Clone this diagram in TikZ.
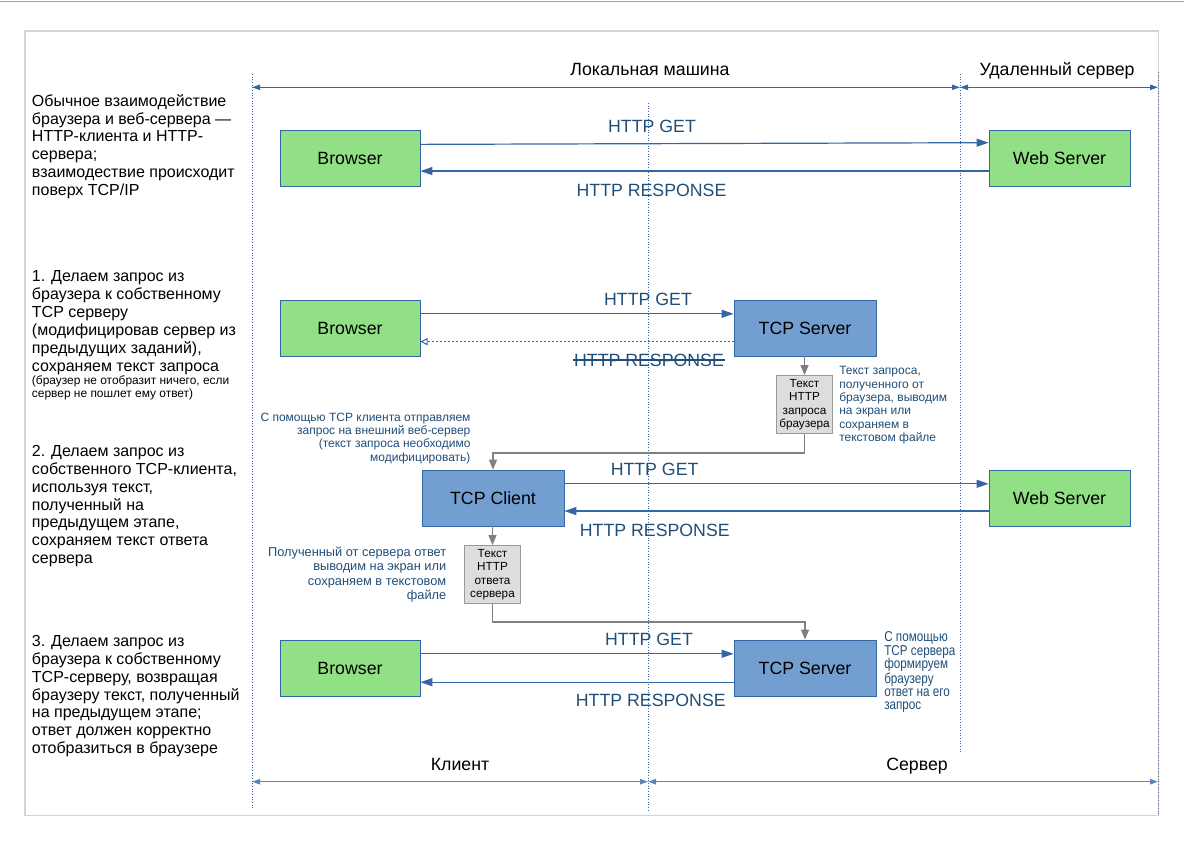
\documentclass[tikz,border=0pt]{standalone}
\usepackage{fontspec}
\setmainfont{Liberation Sans}
\newfontfamily\narrowfont[FakeStretch=0.82]{Liberation Sans}
\usetikzlibrary{arrows.meta,calc}
\definecolor{lineblue}{HTML}{3465A4}
\definecolor{txtblue}{HTML}{1F4E79}
\definecolor{boxgreen}{HTML}{92E085}
\definecolor{boxblue}{HTML}{729FCF}
\definecolor{graybox}{HTML}{DDDDDD}
\definecolor{grayline}{HTML}{808080}
\definecolor{framegray}{HTML}{D3D3D3}
\definecolor{topgray}{HTML}{A0A0A0}
\begin{document}
\begin{tikzpicture}[x=0.75pt,y=-0.75pt,
  greenbox/.style={draw=lineblue, line width=0.6pt, fill=boxgreen, minimum width=105pt, minimum height=42pt, inner sep=0pt, font=\fontsize{13.3pt}{16pt}\selectfont},
  bluebox/.style={greenbox, fill=boxblue, minimum width=106.5pt},
  notebox/.style={draw=grayline!80, line width=0.6pt, fill=graybox, minimum width=41.5pt, minimum height=43.5pt, inner sep=0pt, align=center, font=\fontsize{8.8pt}{10.1pt}\selectfont},
  msg/.style={text=txtblue, inner sep=0pt, font=\fontsize{13.3pt}{16pt}\selectfont},
  zone/.style={inner sep=0pt, anchor=base, font=\fontsize{13.3pt}{16pt}\selectfont},
  lefttext/.style={anchor=north west, inner sep=0pt, align=left, font=\fontsize{12pt}{13.4pt}\selectfont},
  smalltext/.style={anchor=north west, inner sep=0pt, align=left, font=\fontsize{8.95pt}{9.9pt}\selectfont},
  note/.style={text=txtblue, inner sep=0pt, font=\fontsize{9pt}{10pt}\selectfont},
  msgarrow/.style={draw=lineblue, line width=0.9pt, -{Triangle[length=9pt,width=6pt]}},
  dimarrow/.style={draw=lineblue, line width=0.75pt, {Triangle[length=6pt,width=4pt]}-{Triangle[length=6pt,width=4pt]}},
  guide/.style={draw=lineblue, line width=0.6pt, dash pattern=on 0.75pt off 1.25pt},
  flow/.style={draw=grayline, line width=0.9pt, -{Triangle[length=7.5pt,width=6pt]}},
]
\useasboundingbox (0,0) rectangle (1184,843);
% window edge and page frame
\draw[topgray, line width=0.9pt] (0,1.7) -- (1184,1.7);
\draw[framegray, line width=1.2pt] (25,31) rectangle (1158.5,815.5);

% guide lines
\coordinate (gA1) at (252,74);   \coordinate (gA2) at (252,810);
\coordinate (gB1) at (648,103);  \coordinate (gB2) at (648,810);
\coordinate (gC1) at (960,74);   \coordinate (gC2) at (960,752.5);
\coordinate (gD1) at (1158,72);  \coordinate (gD2) at (1158,815);
\draw[guide] (gA1) -- (gA2);
\draw[guide] (gB1) -- (gB2);
\draw[guide] (gC1) -- (gC2);
\draw[guide] (gD1) -- (gD2);

% top dimensions
\coordinate (dL) at (252,87.3); \coordinate (dM) at (960,87.3); \coordinate (dR) at (1158,87.3);
\draw[dimarrow] (dL) -- (dM);
\draw[dimarrow] (dM) -- (dR);
\node[zone] (zloc) at (650,75.3) {Локальная машина};
\node[zone] (zrem) at (1057,75.3) {Удаленный сервер};

% bottom dimensions
\coordinate (cL) at (252,781.7); \coordinate (cM) at (648,781.7); \coordinate (cR) at (1158,781.7);
\draw[dimarrow, draw=lineblue!80, line width=1.1pt] (cL) -- (cM);
\draw[dimarrow, draw=lineblue!80, line width=1.1pt] (cM) -- (cR);
\node[zone] (zcli) at (460,770.3) {Клиент};
\node[zone] (zsrv) at (917,770.3) {Сервер};

% left descriptions
\node[lefttext] (t0) at (31.7,94) {Обычное взаимодействие\\браузера и веб-сервера —\\HTTP-клиента и HTTP-\\сервера;\\взаимодествие происходит\\поверх TCP/IP};
\node[lefttext] (t1) at (31.7,270.5) {1. Делаем запрос из\\браузера к собственному\\TCP серверу\\(модифицировав сервер из\\предыдущих заданий),\\сохраняем текст запроса};
\node[smalltext] (t1s) at (31.7,375.7) {(браузер не отобразит ничего, если\\сервер не пошлет ему ответ)};
\node[lefttext] (t2) at (31.7,445) {2. Делаем запрос из\\собственного TCP-клиента,\\используя текст,\\полученный на\\предыдущем этапе,\\сохраняем текст ответа\\сервера};
\node[lefttext] (t3) at (31.7,635) {3. Делаем запрос из\\браузера к собственному\\TCP-серверу, возвращая\\браузеру текст, полученный\\на предыдущем этапе;\\ответ должен корректно\\отобразиться в браузере};

% row 0
\node[greenbox] (b0) at (350,158) {Browser};
\node[greenbox, minimum width=105.75pt] (ws0) at (1059.5,158) {Web Server};
\draw[msgarrow] ($(b0.north east)!0.26!(b0.south east)$) -- ($(ws0.north west)!0.23!(ws0.south west)$);
\draw[msgarrow] ($(ws0.north west)!0.73!(ws0.south west)$) -- ($(b0.north east)!0.73!(b0.south east)$);
\node[msg] (m0g) at (652,126) {HTTP GET};
\node[msg] (m0r) at (651.5,190.5) {HTTP RESPONSE};

% row 1
\node[greenbox] (b1) at (350,328) {Browser};
\node[bluebox] (ts1) at (805,328) {TCP Server};
\draw[msgarrow] ($(b1.north east)!0.25!(b1.south east)$) -- ($(ts1.north west)!0.25!(ts1.south west)$);
\draw[draw=lineblue, line width=0.75pt, dash pattern=on 1.5pt off 1.5pt, -{Triangle[open,length=5.5pt,width=5.5pt]}] ($(ts1.north west)!0.74!(ts1.south west)$) -- ($(b1.north east)!0.74!(b1.south east)$);
\node[msg] (m1g) at (648,299) {HTTP GET};
\node[msg] (m1r) at (649,360) {HTTP RESPONSE};
\draw[txtblue, line width=0.9pt] ([xshift=-0.5pt]m1r.west) -- ([xshift=0.5pt]m1r.east);
\node[notebox] (g1) at (804.5,404.5) {Текст\\HTTP\\запроса\\браузера};
\draw[flow] (ts1.south -| g1.north) -- (g1.north);
\node[note, anchor=north west, align=left] (n1) at (839,366.4) {Текст запроса,\\полученного от\\браузера, выводим\\на экран или\\сохраняем в\\текстовом файле};

% row 2
\node[bluebox] (tc2) at (493,498) {TCP Client};
\node[greenbox, minimum width=105.75pt] (ws2) at (1059.5,498) {Web Server};
\draw[flow] (g1.south) -- ++(0,19) -| (tc2.north);
\node[note, anchor=north east, align=right] (n2) at (470.7,412.4) {С помощью TCP клиента отправляем\\запрос на внешний веб-сервер\\(текст запроса необходимо\\модифицировать)};
\draw[msgarrow] ($(tc2.north east)!0.25!(tc2.south east)$) -- ($(ws2.north west)!0.25!(ws2.south west)$);
\draw[msgarrow] ($(ws2.north west)!0.73!(ws2.south west)$) -- ($(tc2.north east)!0.73!(tc2.south east)$);
\node[msg] (m2g) at (654.6,469.3) {HTTP GET};
\node[msg] (m2r) at (654.8,530) {HTTP RESPONSE};
\node[notebox, minimum width=42pt] (g2) at (492.5,574.5) {Текст\\HTTP\\ответа\\сервера};
\draw[flow] (tc2.south -| g2.north) -- (g2.north);
\node[note, anchor=north east, align=right, font=\fontsize{9.6pt}{10.65pt}\selectfont] (n3) at (446.5,547) {Полученный от сервера ответ\\выводим на экран или\\сохраняем в текстовом\\файле};

% row 3
\node[greenbox] (b3) at (350,668) {Browser};
\node[bluebox] (ts3) at (805,668) {TCP Server};
\draw[flow] (g2.south) -- ++(0,18) -| (ts3.north);
\draw[msgarrow] ($(b3.north east)!0.25!(b3.south east)$) -- ($(ts3.north west)!0.25!(ts3.south west)$);
\draw[msgarrow] ($(ts3.north west)!0.75!(ts3.south west)$) -- ($(b3.north east)!0.75!(b3.south east)$);
\node[msg] (m3g) at (649,639.3) {HTTP GET};
\node[msg] (m3r) at (650.8,700) {HTTP RESPONSE};
\node[note, anchor=north west, align=left, font=\narrowfont\fontsize{10.7pt}{10pt}\selectfont] (n4) at (884,631.6) {С помощью\\TCP сервера\\формируем\\браузеру\\ответ на его\\запрос};
\end{tikzpicture}
\end{document}
